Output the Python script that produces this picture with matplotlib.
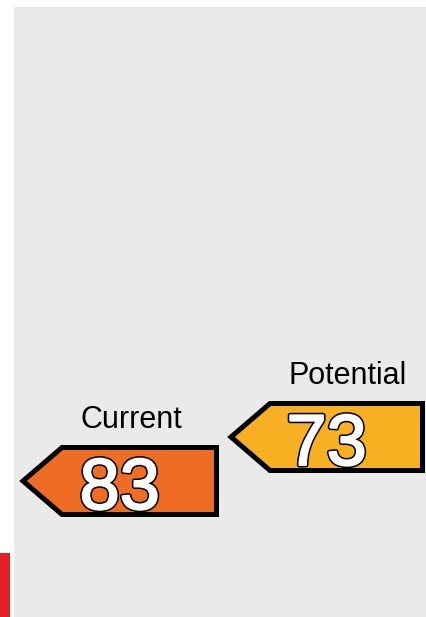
import matplotlib
matplotlib.use("Agg")
import matplotlib.pyplot as plt
from matplotlib.patches import Polygon, Rectangle
import matplotlib.patheffects as pe

plt.rcParams['font.family'] = ['Liberation Sans', 'DejaVu Sans']

labels = ["Current", "Potential"]
ratings = [83, 73]
colors = ["#ee6c24", "#f7b021"]

W, H = 427, 617
PX_PER_UNIT = 4.4
Y_TOP = 83 - 481 / PX_PER_UNIT
Y_BOT = Y_TOP + H / PX_PER_UNIT

fig = plt.figure(figsize=(W / 100, H / 100), dpi=100)
ax = fig.add_axes([0, 0, 1, 1])
ax.set_xlim(0, W)
ax.set_ylim(Y_BOT, Y_TOP)
ax.axis("off")

# background panel and red band
ax.add_patch(Rectangle((14 / W, 0), 1 - 14 / W, (H - 7) / H, transform=ax.transAxes,
                       facecolor="#eaeaea", edgecolor="none", zorder=0))
ax.add_patch(Rectangle((0, 0), 10 / W, (H - 553) / H, transform=ax.transAxes,
                       facecolor="#e41d26", edgecolor="none", zorder=0))

# arrow layout (x in pixels)
arrow_left = [23, 231]
arrow_right = [216.5, 422.5]
shoulder = 39
half_h = 33.5 / PX_PER_UNIT
label_x = [131, 348]

for lab, v, c, xl, xr, lx in zip(labels, ratings, colors, arrow_left, arrow_right, label_x):
    pts = [(xl, v), (xl + shoulder, v - half_h), (xr, v - half_h),
           (xr, v + half_h), (xl + shoulder, v + half_h)]
    ax.add_patch(Polygon(pts, closed=True, facecolor=c, edgecolor="black",
                         linewidth=3.6, joinstyle="miter", zorder=2))
    t = ax.text((xl + xr) / 2, v + 28 / PX_PER_UNIT, str(v), ha="center", va="baseline",
                fontsize=52, color="white", zorder=3)
    t.set_path_effects([pe.Stroke(linewidth=3.6, foreground="black"),
                        pe.Stroke(linewidth=1.4, foreground="white"),
                        pe.Normal()])
    ax.text(lx, v - half_h - 20 / PX_PER_UNIT, lab, ha="center", va="baseline",
            fontsize=22, color="black", zorder=3)

fig.savefig("out.png", dpi=100)
